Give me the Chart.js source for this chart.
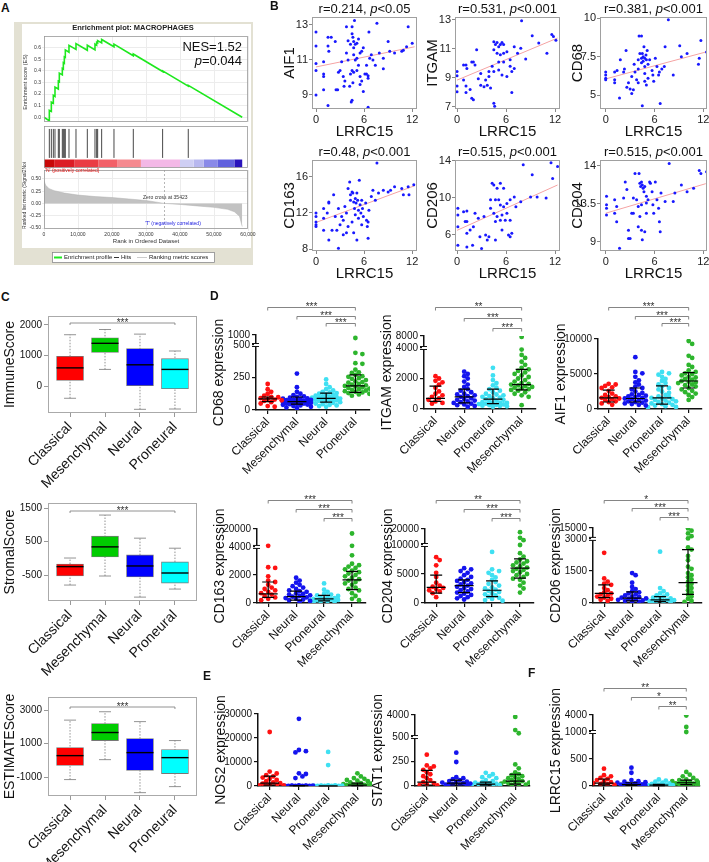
<!DOCTYPE html>
<html>
<head>
<meta charset="utf-8">
<script src="https://cdn.jsdelivr.net/npm/chart.js"></script>
<style>
html,body{margin:0;padding:0;width:709px;height:862px;overflow:hidden;background:#fff}
body{position:relative;font-family:"Liberation Sans",Arial,sans-serif;color:#111}
.pl{position:absolute;font-weight:bold;font-size:12px;z-index:5}
#gsea{position:absolute;left:14px;top:22px;width:239px;height:243px;background:#e3e1d3}
#gin{position:absolute;left:22px;top:24px;width:229px;height:224px;background:#fff}
.t{position:absolute;white-space:nowrap;font-size:13px;z-index:5}
</style>
</head>
<body>
<div id="gsea"></div><div id="gin"></div>
<div class="pl" style="left:1px;top:1px">A</div>
<div class="pl" style="left:270px;top:-1px">B</div>
<div class="pl" style="left:1px;top:290px">C</div>
<div class="pl" style="left:210px;top:289px">D</div>
<div class="pl" style="left:203px;top:669px">E</div>
<div class="pl" style="left:528px;top:666px">F</div>
<div class="t" style="right:467px;top:39px">NES=1.52</div>
<div class="t" style="right:467px;top:53px"><i>p</i>=0.044</div>
<script>
// ---- panel A: GSEA ----
const esRank = [0,1300,1568,1568,2156,2156,2744,2744,3234,3234,4214,4214,4508,4508,5390,5390,5684,5684,5978,5978,6272,6272,7350,7350,9408,9408,12740,12740,14994,14994,15484,15484,15778,15778,16954,16954,20580,20580,26264,26264,34888,34888,42434,42434,58300];
const esScore = [0,-0.025,-0.027,0.06,0.05,0.13,0.12,0.19,0.18,0.26,0.243,0.31,0.305,0.38,0.365,0.42,0.415,0.47,0.465,0.52,0.515,0.58,0.56,0.62,0.585,0.635,0.577,0.62,0.58,0.63,0.62,0.645,0.64,0.66,0.64,0.67,0.607,0.63,0.53,0.545,0.394,0.40,0.268,0.275,0];
const hitRanks = [1568,2156,2744,3234,4214,4508,5390,5684,5978,6272,7350,9408,12740,14994,15484,15778,16954,20580,26264,34888,42434];
const barEdges = [0,3000,9000,16000,21500,28500,40000,44000,47000,51000,56000,58300];
const barCols = ['#c80808','#dc1c24','#ea3c44','#f26068','#f58a90','#f3b8e6','#cfcff4','#b8b8ef','#8a8ae8','#6262de','#2a14bc'];
const rmRank = [0,500,1500,3000,6000,10000,15000,20000,25000,30000,35423,40000,45000,50000,54000,56000,57500,58300];
const rmVal = [0.46,0.37,0.3,0.26,0.21,0.17,0.14,0.12,0.09,0.06,0,-0.02,-0.05,-0.08,-0.12,-0.17,-0.26,-0.47];
const zeroCross = 35423;

// ---- panel B: scatter vs LRRC15 ----
const bGenes = ['AIF1','ITGAM','CD68','CD163','CD206','CD204'];
const bTitles = [['r=0.214, ','p','<0.05'],['r=0.531, ','p','<0.001'],['r=0.381, ','p','<0.001'],['r=0.48, ','p','<0.001'],['r=0.515, ','p','<0.001'],['r=0.515, ','p','<0.001']];
const aif1Pts = [[0,12.6],[0,11.8],[0,10.8],[0,10.4],[0,9.0],[0.95,10.9],[0.95,10.2],[0.95,10.05],[0.95,9.3],[1.5,12.3],[1.9,12.3],[1.5,11.8],[1.6,11.5],[1.5,8.4],[2.4,12.05],[2.5,9.3],[2.7,9.3],[2.8,10.3],[3.0,10.4],[3.2,10.9],[3.4,10.05],[3.5,9.5],[3.6,9.8],[3.8,12.9],[4.0,12.1],[3.8,11.4],[4.0,11.0],[4.3,10.2],[4.2,9.5],[4.5,12.9],[4.5,12.5],[4.3,11.9],[4.6,12.3],[4.7,11.7],[4.7,12.05],[4.8,13.25],[4.9,11.9],[5.1,11.95],[5.3,12.2],[4.7,11.3],[4.9,11.0],[5.1,11.1],[4.5,10.4],[4.7,10.3],[4.6,9.7],[4.5,8.7],[4.4,8.6],[5.1,10.4],[5.3,10.7],[5.5,11.4],[5.7,11.5],[5.9,11.7],[5.5,10.05],[5.5,9.6],[5.7,9.8],[5.9,9.2],[6.1,10.2],[6.3,10.2],[6.5,10.1],[6.5,9.95],[6.3,10.7],[6.6,12.6],[6.5,8.3],[6.7,11.1],[6.9,11.3],[7.1,11.0],[7.4,10.7],[7.6,13.1],[7.9,11.4],[8.4,11.1],[8.4,10.5],[9.0,12.05],[9.2,11.5],[9.8,11.4],[10.7,11.5],[10.9,11.55],[11.5,12.9],[11.3,11.75],[12.0,11.95]];
const itgamPts = [[7.9,12.95],[9.2,11.9],[11.6,12.0],[11.8,11.85],[11.0,10.7],[12.1,11.6],[10.0,11.4],[7.8,11.05],[7.0,11.15],[4.5,11.5],[4.7,11.3],[4.9,11.45],[5.1,11.15],[5.3,11.3],[5.5,11.45],[5.7,11.3],[4.5,10.95],[4.9,10.7],[5.3,10.6],[5.7,10.7],[6.1,10.8],[6.5,10.25],[5.7,10.1],[5.1,10.1],[4.3,9.8],[4.5,9.45],[5.1,9.55],[5.5,9.2],[6.1,9.1],[6.5,9.8],[6.7,9.45],[7.0,9.65],[6.7,8.0],[4.5,7.25],[4.6,7.05],[3.5,8.85],[3.7,8.5],[3.3,8.4],[2.9,8.5],[2.6,8.95],[2.4,10.95],[2.2,9.9],[1.8,10.1],[2.0,10.1],[1.6,8.2],[1.8,7.6],[0.8,8.85],[0.8,9.9],[1.2,9.65],[2.9,9.3],[3.9,9.45],[3.9,9.1],[4.1,8.3],[0,9.45],[0,9.15],[0,8.45],[0,8.05],[1.1,9.9],[1.1,8.45],[1.1,8.0],[2.0,7.5],[7.4,10.7],[8.4,10.3]];
const cd68Pts = [[0,6.5],[0,6.3],[0,6.1],[0,6.0],[1.1,6.5],[1.1,6.0],[1.1,5.8],[1.7,4.8],[1.8,7.3],[2.2,6.5],[2.3,6.7],[2.5,7.9],[2.6,5.5],[2.8,5.8],[3.0,5.4],[3.2,5.1],[3.2,6.2],[3.5,7.0],[3.6,6.5],[3.8,6.0],[4.0,7.3],[4.0,6.7],[4.0,5.8],[4.1,8.85],[4.4,8.85],[4.2,7.7],[4.4,7.4],[4.4,7.1],[4.5,7.7],[4.6,7.5],[4.6,7.2],[4.7,8.15],[4.8,7.4],[4.8,6.85],[4.8,6.4],[4.95,7.6],[5.0,7.3],[5.1,7.9],[5.2,7.0],[5.4,7.3],[5.2,6.1],[4.8,5.9],[4.5,4.3],[5.0,5.65],[5.7,6.6],[5.8,6.3],[5.9,5.9],[6.1,7.4],[6.3,6.85],[6.5,6.3],[6.6,6.5],[6.7,4.45],[6.9,6.7],[7.2,6.85],[7.7,9.9],[7.3,8.15],[8.3,6.3],[9.1,8.2],[9.3,7.5],[10.0,7.7],[11.4,7.0],[11.5,7.4],[11.7,8.55],[12.4,7.8],[1.4,6.6],[3.4,5.35]];
const cd163Pts = [[0,12],[0,11.6],[0,11.0],[0,10.7],[0,10.5],[0.95,12.5],[0.95,11.4],[0.95,10.1],[1.4,12.0],[1.6,13.2],[1.6,13.1],[1.6,9.0],[2.0,10.1],[2.2,14.0],[2.4,11.6],[2.6,10.1],[2.8,12.5],[2.8,8.1],[3.0,10.7],[3.2,11.6],[3.4,11.2],[3.4,9.6],[3.6,12.7],[3.8,12.0],[3.8,9.8],[4.0,10.5],[4.0,14.7],[4.2,15.4],[4.3,14.0],[4.3,13.4],[4.5,14.3],[4.6,14.2],[4.7,13.2],[4.8,12.5],[4.9,13.6],[4.9,11.8],[5.0,13.1],[5.1,14.2],[5.2,13.4],[5.3,12.3],[5.3,11.4],[5.4,15.6],[5.5,12.9],[5.6,12.0],[5.7,13.4],[5.8,12.5],[5.9,11.6],[5.7,10.7],[5.1,9.0],[4.7,9.8],[4.5,11.0],[6.2,13.1],[6.3,11.2],[6.4,10.5],[6.5,11.0],[6.5,9.2],[6.6,12.3],[6.9,13.8],[7.1,14.5],[7.6,17.5],[7.4,13.4],[7.8,14.2],[8.4,14.5],[9.0,14.3],[9.3,14.5],[9.8,14.9],[10.7,14.7],[10.9,14.0],[11.5,14.9],[11.6,14.0],[12.2,15.1]];
const cd206Pts = [[8.1,13.6],[11.5,13.8],[12.3,13.4],[9.2,12.5],[11.7,12.1],[9.0,10.1],[9.8,10.1],[10.9,10.0],[5.3,11.6],[5.7,11.05],[4.3,11.6],[4.5,11.4],[4.9,11.05],[4.1,9.8],[4.7,9.8],[5.1,9.8],[5.3,9.25],[5.7,9.05],[6.1,9.4],[6.5,9.8],[7.0,10.1],[7.2,9.05],[7.8,9.6],[4.1,8.9],[4.5,8.35],[4.9,8.0],[5.3,7.6],[4.7,7.45],[5.5,8.15],[5.9,7.6],[6.1,8.35],[6.5,7.6],[6.7,6.2],[6.3,6.0],[6.5,5.8],[5.5,6.55],[4.7,5.45],[3.5,6.0],[3.9,5.8],[3.0,4.55],[2.8,5.8],[2.6,7.8],[3.3,8.0],[2.2,8.35],[2.0,6.9],[1.6,6.55],[0.8,8.5],[1.0,7.45],[1.2,6.2],[1.9,4.9],[3.7,5.45],[0.1,8.9],[0.1,8.15],[0.1,6.9],[0.1,4.9],[1.2,8.6],[1.2,7.45],[1.2,4.7]];
const cd204Pts = [[0.1,14.4],[0.1,13.4],[0.1,13.0],[0.1,12.2],[1.1,12.4],[1.1,14.0],[1.35,11.4],[1.7,8.25],[2.2,14.2],[2.4,16.1],[2.6,15.2],[2.8,10.4],[3.0,9.4],[2.8,9.4],[3.2,12.4],[3.4,14.2],[3.4,12.4],[3.6,17.1],[3.8,14.0],[4.0,13.2],[4.0,10.8],[4.1,17.1],[4.2,15.95],[4.3,15.55],[4.4,16.1],[4.5,15.75],[4.6,15.35],[4.7,14.95],[4.8,15.55],[5.0,14.4],[5.0,13.6],[4.4,13.4],[4.2,12.0],[4.4,10.4],[4.5,9.25],[4.8,10.2],[5.0,12.4],[5.2,14.0],[5.4,16.1],[5.5,15.95],[5.7,14.95],[5.8,13.4],[5.9,12.4],[6.1,16.1],[6.3,14.0],[6.5,13.0],[6.6,11.4],[6.7,10.2],[6.8,14.8],[7.3,13.8],[7.8,18.3],[8.3,13.8],[8.5,14.8],[9.3,15.75],[10.0,14.95],[10.8,15.35],[11.5,17.45],[11.7,17.1],[12.4,17.3],[1.35,13.2]];
const aif1Fit = [10.6,11.75], itgamFit = [8.85,11.75], cd68Fit = [6.05,7.8];
const cd163Fit = [10.95,15.0], cd206Fit = [6.5,11.4], cd204Fit = [12.4,15.9];
const bTicksX = [0,6,12];

// ---- panel C: ESTIMATE box plots ----
const catsC = ['Classical','Mesenchymal','Neural','Proneural'];
const immMin = [-390,550,-750,-740], immQ1 = [190,1100,0,-80], immMed = [600,1400,700,550], immQ3 = [980,1580,1230,900], immMax = [1680,1850,1700,1150];
const strMin = [-800,-530,-1160,-920], strQ1 = [-530,40,-560,-740], strMed = [-250,340,-230,-440], strQ3 = [-170,660,100,-110], strMax = [7,1290,600,300];
const estMin = [-1150,40,-1930,-1570], estQ1 = [-310,1180,-610,-790], estMed = [280,1660,460,160], estQ3 = [760,2190,1300,640], estMax = [2400,2900,2310,1180];
const sigC = [[0,3,'***']];

// ---- panels D, E, F: expression dot plots ----
const catsD = ['Classical','Neural','Proneural','Mesenchymal'];
const catsD68 = ['Classical','Mesenchymal','Neural','Proneural'];
const cd68Vals = [
  [200,160,140,125,110,100,98,92,88,85,80,75,70,60,50,30,25],
  [280,175,140,125,115,105,100,95,90,88,85,80,78,75,72,70,68,65,62,60,58,55,52,50,48,45,42,40,35,30,25,20,15],
  [235,200,175,160,150,140,135,130,125,120,115,110,105,100,98,95,92,90,88,85,82,80,78,75,72,70,65,60,55,50,45,40,35,30,25],
  [850,440,430,360,355,310,290,285,270,260,255,245,240,230,220,215,210,200,195,190,185,180,175,170,165,160,155,150,145,140,135,130,125,120,110]];
const cd68Med = [85,65,90,185], cd68Q1 = [65,45,60,135], cd68Q3 = [100,100,130,270];
const itgamVals = [
  [2150,2000,1850,1750,1600,1400,1150,1000,900,800,700,600,500,400,350],
  [2450,2300,2150,2000,1800,1600,1450,1300,1200,1100,1000,950,900,850,800,700,650,600,550,500,450,400,350,300,250,200,150],
  [2700,2200,1900,1700,1550,1400,1300,1200,1100,1000,950,900,850,800,750,700,650,600,550,500,450,420,400,380,350,320,300,280,250,220,200,180,150],
  [7700,3900,3550,3350,3100,2900,2700,2600,2500,2400,2300,2200,2100,2000,1900,1800,1700,1650,1600,1550,1500,1450,1400,1350,1300,1250,1200,1100,1000,900,800,250]];
const itgamMed = [700,800,650,1600], itgamQ1 = [500,400,350,1250], itgamQ3 = [1500,1300,1300,2600];
const aif1Vals = [
  [3600,3500,3300,3100,3000,2600,2200,2000,1800,1700,1600,1500,1400,1300,1100,1000,800,600],
  [7400,5300,5100,4600,4100,3800,3500,3200,3000,2800,2500,2300,2100,2000,1900,1800,1700,1600,1500,1400,1300,1200,1100,1000,900,800,700,600,500],
  [5300,5100,4900,4600,4300,4000,3700,3500,3200,3000,2800,2500,2300,2000,1800,1700,1600,1500,1400,1300,1200,1100,1000,900,800,700,600,500,400,300,250],
  [9700,9300,7600,7300,6300,6000,5500,5300,5100,5000,4800,4600,4500,4300,4200,4000,3900,3800,3700,3500,3400,3200,3000,2800,2600,2400,2200,2000,1700,1300]];
const aif1Med = [1600,1500,1600,4000], aif1Q1 = [1000,1000,700,3000], aif1Q3 = [2700,3000,3300,5200];
const cd163Vals = [
  [5000,2550,2500,1900,1600,1500,1300,1100,1000,900,800,700,600,500,400,300,200],
  [1800,1600,1450,1300,1200,1100,1000,900,850,800,700,650,600,550,500,450,400,350,300,250,200,150,100],
  [1400,950,800,650,600,550,500,450,400,350,300,280,250,220,200,180,150,120,100,80],
  [16000,5000,3400,2800,2700,2600,2500,2400,2300,2200,2100,2000,1900,1800,1700,1600,1500,1400,1300,1100,1000,900,700,500,300,200]];
const cd163Med = [650,450,300,1650], cd163Q1 = [400,200,150,950], cd163Q3 = [1500,850,550,2250];
const cd204Vals = [
  [7900,7400,6500,5200,4500,3500,3000,2800,2600,2400,2200,2000,1700,1000],
  [6000,5800,5500,5200,4800,4500,4200,4000,3800,3600,3400,3200,3000,2800,2600,2400,2200,2000,1800,1600,1400,1200,1000,800,600],
  [8800,5800,5500,5200,4800,4400,4000,3600,3300,3000,2700,2500,2300,2100,1900,1700,1500,1300,1100,900,700,500,400],
  [18000,14500,13000,10000,8600,8000,7500,7200,7000,6800,6500,6300,6100,5900,5700,5500,5300,5000,4800,4500,4200,4000,3500,3000,2500,1800]];
const cd204Med = [2700,3000,2200,6000], cd204Q1 = [1700,1800,1100,4300], cd204Q3 = [4800,4000,3800,7600];
const cd206Vals = [
  [2350,1150,1000,900,850,700,600,500,450,400,350,300,250,200,150,100],
  [1400,1300,950,750,650,550,500,450,400,350,300,280,250,220,200,180,150,120,100,80,50],
  [2400,700,550,450,400,350,300,250,220,200,180,150,130,110,90,70,50,30],
  [14500,12000,9000,6000,3500,2600,2500,2200,2000,1700,1600,1400,1300,1200,1100,1000,900,800,700,600,500,400,300,200,100,50]];
const cd206Med = [450,230,150,950], cd206Q1 = [250,100,60,400], cd206Q3 = [850,520,300,2500];
const nos2Vals = [
  [22500,6000,5200,4500,4000,3500,3000,2500,2000,1500,1200,1000,800,600,400,300,200,100],
  [28000,15000,14500,14000,5300,5000,4000,3300,200,150,100,100,80,60,50,40,30,20,10,0],
  [14200,8700,300,200,150,100,80,60,50,40,30,20,10,5],
  [5300,4000,3300,3000,2500,2200,2000,1500,1200,1000,800,600,500,400,300,200,150,100,50]];
const nos2Med = [1200,100,50,400], nos2Q1 = [400,20,20,100], nos2Q3 = [4100,200,100,1200];
const stat1Vals = [
  [320,210,200,180,165,140,120,100,80,60,40,30,20,10,5],
  [340,245,90,80,70,60,50,45,40,35,30,25,20,15,10,8,5],
  [135,120,100,90,80,60,50,40,35,30,25,20,15,12,10,8,5],
  [3700,1600,1100,220,180,140,120,110,100,90,80,70,60,50,45,40,35,30,25,20,15,10]];
const stat1Med = [40,30,20,50], stat1Q1 = [10,10,8,20], stat1Q3 = [160,60,40,120];
const lrrc15Vals = [
  [320,200,180,150,130,110,90,70,55,40,30,20,10],
  [340,245,110,90,80,70,60,50,40,30,25,20,15,10,5],
  [120,100,80,60,50,40,30,25,20,15,10,8,5,3],
  [3900,1900,1000,260,210,180,150,120,110,100,90,80,70,60,50,45,40,35,30,25,20,15,10]];
const lrrc15Med = [55,25,15,60], lrrc15Q1 = [20,10,5,25], lrrc15Q3 = [130,60,30,110];
const sig3 = [[0,3,'***'],[1,3,'***'],[2,3,'***']];
const sigItgam = [[0,3,'**'],[1,3,'***'],[2,3,'***']];
const sigCd204 = [[0,3,'**'],[1,3,'***'],[2,3,'***']];
const sigCd206 = [[0,3,'*'],[1,3,'***'],[2,3,'***']];
const sigLrrc15 = [[0,3,'**'],[1,3,'*'],[2,3,'**']];

// ---- styling ----
const FF = '"Liberation Sans", Arial, sans-serif';
const colsC = ['#ff0000','#00cc00','#0000ff','#00ffff'];
const colsD = ['#ff1212','#1414ee','#3fe0f2','#2db52d'];
Chart.defaults.font.family = FF;
Chart.defaults.color = '#111';
Chart.defaults.plugins.legend.display = false;
Chart.defaults.plugins.tooltip.enabled = false;
Chart.defaults.animation = false;

let nChart = 0;
function mk(box, pad, cfg, hooks) {
  const [l, t, r, b] = box, [pl, pt, pr, pb] = pad;
  const w = r - l + pl + pr, h = b - t + pt + pb;
  const c = document.createElement('canvas');
  c.width = w; c.height = h;
  c.style.cssText = 'position:absolute;left:' + (l - pl) + 'px;top:' + (t - pt) + 'px;width:' + w + 'px;height:' + h + 'px';
  document.body.appendChild(c);
  const o = cfg.options;
  o.responsive = false; o.animation = false; o.devicePixelRatio = 1;
  o.layout = {padding: {left: 0, top: pt, right: pr, bottom: 0}};
  o.scales.x.afterFit = s => { s.height = pb; };
  o.scales.y.afterFit = s => { s.width = pl; };
  hooks = hooks || {};
  const P = (ch, px, py) => [px - l + ch.chartArea.left, py - t + ch.chartArea.top];
  cfg.plugins = [{
    id: 'deco' + (nChart++),
    beforeDatasetsDraw(ch) { if (hooks.before) hooks.before(ch, P); },
    afterDatasetsDraw(ch) { if (hooks.after) hooks.after(ch, P); },
    afterDraw(ch) { if (hooks.top) hooks.top(ch, P); }
  }];
  return new Chart(c, cfg);
}

function frame(ch, col, lw) {
  const {ctx, chartArea: a} = ch;
  ctx.save(); ctx.strokeStyle = col; ctx.lineWidth = lw || 1;
  ctx.strokeRect(a.left + 0.5, a.top + 0.5, a.width - 1, a.height - 1);
  ctx.restore();
}
function text(ctx, s, x, y, font, color, align, base) {
  ctx.save(); ctx.font = font; ctx.fillStyle = color || '#111';
  ctx.textAlign = align || 'center'; ctx.textBaseline = base || 'middle';
  ctx.fillText(s, x, y); ctx.restore();
}
function vtext(ctx, s, x, y, font, color) {
  ctx.save(); ctx.translate(x, y); ctx.rotate(-Math.PI / 2);
  ctx.font = font; ctx.fillStyle = color || '#111'; ctx.textAlign = 'center'; ctx.textBaseline = 'middle';
  ctx.fillText(s, 0, 0); ctx.restore();
}
function fixedTicks(vals) { return s => { s.ticks = vals.map(v => ({value: v})); }; }

// ---------- Panel A ----------
mk([44, 36, 248, 126], [22, 16, 10, 0], {
  type: 'scatter',
  data: {datasets: [{data: esRank.map((r, i) => ({x: r, y: esScore[i]})), showLine: true, borderColor: '#1ee81e', borderWidth: 1.6, pointRadius: 0}]},
  options: {scales: {
    x: {type: 'linear', min: 0, max: 60000, ticks: {display: false, stepSize: 10000}, grid: {color: '#ececec', drawTicks: false}, border: {display: false}},
    y: {type: 'linear', min: -0.041, max: 0.70, afterBuildTicks: fixedTicks([0, 0.1, 0.2, 0.3, 0.4, 0.5, 0.6]),
        ticks: {font: {size: 5}, color: '#333', padding: 1, callback: v => v.toFixed(1)}, grid: {color: '#ececec', tickLength: 2}, border: {display: false}}
  }}
}, {top(ch, P) {
  frame(ch, '#999', 0.8);
  const ctx = ch.ctx;
  let [x, y] = P(ch, 133, 28);
  text(ctx, 'Enrichment plot: MACROPHAGES', x, y, 'bold 7.5px ' + FF, '#222');
  [x, y] = P(ch, 25, 82);
  vtext(ctx, 'Enrichment score (ES)', x, y, '5.5px ' + FF, '#333');
}});

const hitData = [];
hitRanks.forEach(r => { hitData.push({x: r, y: 0.24}, {x: r, y: 0.93}, {x: r, y: null}); });
const barSets = barCols.map((c, i) => ({data: [{x: barEdges[i], y: 0.107}, {x: barEdges[i + 1], y: 0.107}], showLine: true, borderColor: c, borderWidth: 8, borderCapStyle: 'butt', pointRadius: 0}));
mk([44, 126, 248, 168], [22, 4, 10, 0], {
  type: 'scatter',
  data: {datasets: [{data: hitData, showLine: true, spanGaps: false, borderColor: '#333', borderWidth: 0.9, pointRadius: 0}].concat(barSets)},
  options: {scales: {
    x: {type: 'linear', min: 0, max: 60000, display: false},
    y: {type: 'linear', min: 0, max: 1, display: false}
  }}
}, {top(ch) { frame(ch, '#999', 0.8); }});

mk([44, 170, 248, 229], [22, 8, 10, 36], {
  type: 'scatter',
  data: {datasets: [{data: rmRank.map((r, i) => ({x: r, y: rmVal[i]})), showLine: true, fill: 'origin', backgroundColor: '#c2c2c2', borderColor: '#b0b0b0', borderWidth: 0.5, pointRadius: 0}]},
  options: {scales: {
    x: {type: 'linear', min: 0, max: 60000, afterBuildTicks: fixedTicks([0, 10000, 20000, 30000, 40000, 50000, 60000]),
        ticks: {font: {size: 5}, color: '#333', padding: 1, maxRotation: 0, callback: v => v.toLocaleString('en-US')}, grid: {color: '#ececec', tickLength: 2}, border: {display: false}},
    y: {type: 'linear', min: -0.52, max: 0.68, afterBuildTicks: fixedTicks([-0.5, -0.25, 0, 0.25, 0.5]),
        ticks: {font: {size: 5}, color: '#333', padding: 1, callback: v => v.toFixed(2)}, grid: {color: '#ececec', tickLength: 2}, border: {display: false}}
  }}
}, {top(ch, P) {
  frame(ch, '#999', 0.8);
  const {ctx, chartArea: a, scales: {x}} = ch;
  const zx = x.getPixelForValue(zeroCross);
  ctx.save(); ctx.strokeStyle = '#999'; ctx.lineWidth = 0.7; ctx.setLineDash([2, 2]);
  ctx.beginPath(); ctx.moveTo(zx, a.top); ctx.lineTo(zx, a.bottom); ctx.stroke(); ctx.restore();
  let [px, py] = P(ch, 45, 171);
  text(ctx, "'N' (positively correlated)", px, py, '5px ' + FF, '#e01010', 'left');
  [px, py] = P(ch, 143, 198);
  text(ctx, 'Zero cross at ' + zeroCross, px, py, '5px ' + FF, '#333', 'left');
  [px, py] = P(ch, 145, 224);
  text(ctx, "'T' (negatively correlated)", px, py, '5px ' + FF, '#2020e0', 'left');
  [px, py] = P(ch, 25, 192);
  vtext(ctx, 'Ranked list metric (Signal2Noise)', px, py, '5px ' + FF, '#333');
  [px, py] = P(ch, 146, 241);
  text(ctx, 'Rank in Ordered Dataset', px, py, '6px ' + FF, '#333');
  // legend
  [px, py] = P(ch, 52, 252);
  ctx.save(); ctx.fillStyle = '#fff'; ctx.fillRect(px, py, 163, 11);
  ctx.strokeStyle = '#888'; ctx.lineWidth = 0.8; ctx.strokeRect(px + 0.5, py + 0.5, 162, 10);
  const ly = py + 5.5;
  const items = [['#1ee81e', 'Enrichment profile', 2, 8, 2], ['#333', 'Hits', 62, 5, 1], ['#ccc', 'Ranking metric scores', 85, 10, 1]];
  items.forEach(it => {
    ctx.strokeStyle = it[0]; ctx.lineWidth = it[4]; ctx.beginPath(); ctx.moveTo(px + it[2], ly); ctx.lineTo(px + it[2] + it[3], ly); ctx.stroke();
    text(ctx, it[1], px + it[2] + it[3] + 2, ly, '6px ' + FF, '#222', 'left');
  });
  ctx.restore();
}});

// ---------- Panel B ----------
function scatChart(box, pts, fit, xr, yr, yt, ylab, gi) {
  mk(box, [46, 22, 9, 34], {
    type: 'scatter',
    data: {datasets: [
      {data: pts.map(p => ({x: p[0], y: p[1]})), backgroundColor: '#1818ff', borderWidth: 0, pointRadius: 1.5},
      {data: [{x: 0, y: fit[0]}, {x: 12.3, y: fit[1]}], showLine: true, borderColor: '#f5a3a3', borderWidth: 1, pointRadius: 0}
    ]},
    options: {scales: {
      x: {type: 'linear', min: xr[0], max: xr[1], afterBuildTicks: fixedTicks(bTicksX),
          ticks: {font: {size: 11}, color: '#222', padding: 1, maxRotation: 0}, grid: {drawOnChartArea: false, tickLength: 3, color: '#888'}, border: {display: false}},
      y: {type: 'linear', min: yr[0], max: yr[1], afterBuildTicks: fixedTicks(yt),
          ticks: {font: {size: 11}, color: '#222', padding: 1, callback: (v, i) => ylab[i]}, grid: {drawOnChartArea: false, tickLength: 3, color: '#888'}, border: {display: false}}
    }}
  }, {top(ch) {
    frame(ch, '#a0a0a0', 1);
    const {ctx, chartArea: a} = ch;
    const parts = bTitles[gi];
    let w = 0;
    parts.forEach((s, k) => { ctx.font = (k === 1 ? 'italic ' : '') + '13px ' + FF; w += ctx.measureText(s).width; });
    let x = (a.left + a.right) / 2 - w / 2;
    ctx.save(); ctx.fillStyle = '#111'; ctx.textBaseline = 'middle'; ctx.textAlign = 'left';
    parts.forEach((s, k) => { ctx.font = (k === 1 ? 'italic ' : '') + '13px ' + FF; ctx.fillText(s, x, a.top - 8); x += ctx.measureText(s).width; });
    ctx.restore();
    vtext(ctx, bGenes[gi], a.left - 22, (a.top + a.bottom) / 2, '15px ' + FF);
    text(ctx, 'LRRC15', (a.left + a.right) / 2, a.bottom + 23, '15px ' + FF);
  }});
}
scatChart([312, 17, 417, 109], aif1Pts, aif1Fit, [-0.5, 12.6], [8.2, 13.45], [9, 11, 13], ['9', '11', '13'], 0);
scatChart([455, 17, 560, 109], itgamPts, itgamFit, [-0.25, 12.6], [6.86, 13.2], [7, 9, 11, 13], ['7', '9', '11', '13'], 1);
scatChart([600, 17, 707, 109], cd68Pts, cd68Fit, [-0.7, 12.45], [4.09, 10.08], [5, 7.5, 10], ['5', '7.5', '10'], 2);
scatChart([312, 160, 417, 251], cd163Pts, cd163Fit, [-0.5, 12.6], [7.8, 17.84], [8, 12, 16], ['8', '12', '16'], 3);
scatChart([455, 160, 560, 251], cd206Pts, cd206Fit, [-0.25, 12.6], [4.27, 14.1], [6, 10, 14], ['6', '10', '14'], 4);
scatChart([600, 160, 707, 251], cd204Pts, cd204Fit, [-0.7, 12.45], [7.93, 18.7], [9, 13.5, 18], ['9', '13.5', '14'], 5);

// ---------- Panel C ----------
function boxChart(box, mn, q1, md, q3, mx, yr, yt, title, brOff) {
  mk(box, [48, 8, 6, 92], {
    type: 'bar',
    data: {datasets: [{data: q1.map((q, i) => ({x: i, y: [q, q3[i]]})), backgroundColor: colsC, borderColor: '#777', borderWidth: 0.8, borderSkipped: false, barThickness: 27}]},
    options: {scales: {
      x: {type: 'linear', min: -0.63, max: 3.63, offset: false, afterBuildTicks: fixedTicks([0, 1, 2, 3]),
          ticks: {callback: (v, i) => catsC[i], autoSkip: false, minRotation: 45, maxRotation: 45, font: {size: 14}, color: '#111', padding: 2},
          grid: {drawOnChartArea: false, offset: false, tickLength: 4, color: '#999'}, border: {display: false}},
      y: {type: 'linear', min: yr[0], max: yr[1], afterBuildTicks: fixedTicks(yt),
          ticks: {font: {size: 10}, color: '#111', padding: 2, callback: v => String(v)},
          grid: {drawOnChartArea: false, tickLength: 4, color: '#999'}, border: {display: false}}
    }}
  }, {
    before(ch) {
      const {ctx, scales: {x, y}} = ch;
      ctx.save(); ctx.strokeStyle = '#777'; ctx.lineWidth = 0.8;
      for (let i = 0; i < 4; i++) {
        const cx = x.getPixelForValue(i), a = y.getPixelForValue(mn[i]), b = y.getPixelForValue(mx[i]);
        ctx.setLineDash([1.5, 1.5]); ctx.beginPath(); ctx.moveTo(cx, a); ctx.lineTo(cx, b); ctx.stroke();
        ctx.setLineDash([]); ctx.beginPath();
        ctx.moveTo(cx - 6, a); ctx.lineTo(cx + 6, a); ctx.moveTo(cx - 6, b); ctx.lineTo(cx + 6, b); ctx.stroke();
      }
      ctx.restore();
    },
    after(ch) {
      const {ctx, scales: {x, y}} = ch;
      ctx.save(); ctx.strokeStyle = '#000'; ctx.lineWidth = 1.4;
      for (let i = 0; i < 4; i++) {
        const cx = x.getPixelForValue(i), m = y.getPixelForValue(md[i]);
        ctx.beginPath(); ctx.moveTo(cx - 13.5, m); ctx.lineTo(cx + 13.5, m); ctx.stroke();
      }
      ctx.restore();
    },
    top(ch) {
      frame(ch, '#aaa', 1);
      const {ctx, chartArea: a, scales: {x}} = ch;
      vtext(ctx, title, a.left - 38, (a.top + a.bottom) / 2, '14px ' + FF);
      sigC.forEach(s => {
        const x1 = x.getPixelForValue(s[0]), x2 = x.getPixelForValue(s[1]), yy = a.top + brOff;
        ctx.save(); ctx.strokeStyle = '#777'; ctx.lineWidth = 0.8;
        ctx.beginPath(); ctx.moveTo(x1, yy + 2); ctx.lineTo(x1, yy); ctx.lineTo(x2, yy); ctx.lineTo(x2, yy + 2); ctx.stroke(); ctx.restore();
        text(ctx, s[2], (x1 + x2) / 2, yy + 3, '10px ' + FF, '#333', 'center', 'alphabetic');
      });
    }
  });
}
boxChart([48, 316, 197, 413], immMin, immQ1, immMed, immQ3, immMax, [-870, 2290], [0, 1000, 2000], 'ImmuneScore', 7);
boxChart([48, 503, 197, 601], strMin, strQ1, strMed, strQ3, strMax, [-1276, 1650], [-500, 500, 1500], 'StromalScore', 8);
boxChart([48, 697, 197, 796], estMin, estQ1, estMed, estQ3, estMax, [-2130, 3780], [-1000, 1000, 3000], 'ESTIMATEScore', 10);

// ---------- Panels D, E, F ----------
function swarm(vals, T, ky) {
  const placed = [];
  return vals.slice().sort((a, b) => b - a).map(v => {
    const yp = T(v) * ky;
    let best = 0, bestD = -1;
    for (let k = 0; k < 9; k++) {
      const c = (k % 2 ? 1 : -1) * Math.ceil(k / 2) * 3.5;
      let d = Infinity;
      placed.forEach(p => { d = Math.min(d, (p.x - c) * (p.x - c) + (p.y - yp) * (p.y - yp)); });
      if (d >= 16) { best = c; break; }
      if (d > bestD) { bestD = d; best = c; }
    }
    placed.push({x: best, y: yp});
    return {v: v, dx: best};
  });
}

function dotChart(o) {
  const br = o.brk;
  const T = br ? (v => v <= br[0] ? v : br[0] + (v - br[0]) / (br[1] - br[0]) * br[0] * br[2]) : (v => v);
  const ticks = o.ticks, ymax = T(ticks[ticks.length - 1]);
  const [l, t, r, b] = o.box, sp = (r - l) / 3.9, ky = (b - t) / ymax;
  const ds = o.vals.map((g, i) => ({
    data: swarm(g, T, ky).map(p => ({x: i + p.dx / sp, y: T(p.v)})),
    backgroundColor: colsD[i], borderWidth: 0, pointRadius: 2.4
  }));
  mk(o.box, [60, 40, 12, 80], {
    type: 'scatter', data: {datasets: ds},
    options: {scales: {
      x: {type: 'linear', min: -0.4, max: 3.5, afterBuildTicks: fixedTicks([0, 1, 2, 3]),
          ticks: {callback: (v, i) => o.cats[i], autoSkip: false, minRotation: 45, maxRotation: 45, font: {size: 12}, color: '#111', padding: 1},
          grid: {drawOnChartArea: false, tickLength: 4, color: '#111', lineWidth: 1.2}, border: {color: '#111', width: 1.5}},
      y: {type: 'linear', min: 0, max: ymax, afterBuildTicks: fixedTicks(ticks.map(T)),
          ticks: {callback: (v, i) => String(ticks[i]), font: {size: 10}, color: '#111', padding: 2},
          grid: {drawOnChartArea: false, tickLength: 4, color: '#111', lineWidth: 1.2}, border: {color: '#111', width: 1.5}}
    }}
  }, {
    after(ch) {
      const {ctx, scales: {x, y}} = ch;
      ctx.save(); ctx.strokeStyle = '#000'; ctx.lineWidth = 1.2;
      for (let i = 0; i < 4; i++) {
        const cx = x.getPixelForValue(i), ya = y.getPixelForValue(T(o.q1[i])), yb = y.getPixelForValue(T(o.q3[i])), ym = y.getPixelForValue(T(o.med[i]));
        ctx.beginPath();
        ctx.moveTo(cx, ya); ctx.lineTo(cx, yb);
        ctx.moveTo(cx - 6, ya); ctx.lineTo(cx + 6, ya);
        ctx.moveTo(cx - 6, yb); ctx.lineTo(cx + 6, yb);
        ctx.moveTo(cx - 9.5, ym); ctx.lineTo(cx + 9.5, ym);
        ctx.stroke();
      }
      ctx.restore();
    },
    top(ch) {
      const {ctx, chartArea: a, scales: {x, y}} = ch;
      vtext(ctx, o.title, a.left - 37, (a.top + a.bottom) / 2, '14px ' + FF);
      if (br) {
        const yb = y.getPixelForValue(br[0]);
        ctx.save(); ctx.fillStyle = '#fff'; ctx.fillRect(a.left - 2, yb - 1.5, 4, 3);
        ctx.strokeStyle = '#111'; ctx.lineWidth = 1;
        ctx.beginPath(); ctx.moveTo(a.left - 4, yb - 1.5); ctx.lineTo(a.left + 3, yb - 1.5);
        ctx.moveTo(a.left - 4, yb + 1.5); ctx.lineTo(a.left + 3, yb + 1.5); ctx.stroke(); ctx.restore();
      }
      (o.sig || []).forEach((s, k) => {
        const x1 = x.getPixelForValue(s[0]), x2 = x.getPixelForValue(s[1]), yy = a.top - o.sigOff[k] + 0.5;
        ctx.save(); ctx.strokeStyle = '#666'; ctx.lineWidth = 0.8;
        ctx.beginPath(); ctx.moveTo(x1, yy + 3); ctx.lineTo(x1, yy); ctx.lineTo(x2, yy); ctx.lineTo(x2, yy + 3); ctx.stroke(); ctx.restore();
        text(ctx, s[2], (x1 + x2) / 2, yy + 2.5, '10px ' + FF, '#333', 'center', 'alphabetic');
      });
    }
  });
}

dotChart({box: [256, 335, 370, 410], vals: cd68Vals, med: cd68Med, q1: cd68Q1, q3: cd68Q3, cats: catsD68, ticks: [0, 250, 500, 1000], brk: [500, 1000, 0.154], title: 'CD68 expression', sig: sig3, sigOff: [28, 19, 12]});
dotChart({box: [424, 336, 536, 409], vals: itgamVals, med: itgamMed, q1: itgamQ1, q3: itgamQ3, cats: catsD, ticks: [0, 2000, 4000, 8000], brk: [4000, 8000, 0.197], title: 'ITGAM expression', sig: sigItgam, sigOff: [29, 18, 8]});
dotChart({box: [598, 339, 702, 409], vals: aif1Vals, med: aif1Med, q1: aif1Q1, q3: aif1Q3, cats: catsD, ticks: [0, 5000, 10000], title: 'AIF1 expression', sig: sig3, sigOff: [32, 23, 16]});
dotChart({box: [257, 529, 366, 603], vals: cd163Vals, med: cd163Med, q1: cd163Q1, q3: cd163Q3, cats: catsD, ticks: [0, 2000, 4000, 20000], brk: [4000, 20000, 0.32], title: 'CD163 expression', sig: sig3, sigOff: [29, 20, 11]});
dotChart({box: [425, 529, 534, 603], vals: cd204Vals, med: cd204Med, q1: cd204Q1, q3: cd204Q3, cats: catsD, ticks: [0, 5000, 10000, 20000], brk: [10000, 20000, 0.276], title: 'CD204 expression', sig: sigCd204, sigOff: [29, 20, 11]});
dotChart({box: [593, 528, 702, 603], vals: cd206Vals, med: cd206Med, q1: cd206Q1, q3: cd206Q3, cats: catsD, ticks: [0, 1500, 3000, 15000], brk: [3000, 15000, 0.17], title: 'CD206 expression', sig: sigCd206, sigOff: [28, 20, 11]});
dotChart({box: [258, 714, 372, 786], vals: nos2Vals, med: nos2Med, q1: nos2Q1, q3: nos2Q3, cats: catsD, ticks: [0, 10000, 20000, 30000], title: 'NOS2 expression'});
dotChart({box: [415, 715, 530, 786], vals: stat1Vals, med: stat1Med, q1: stat1Q1, q3: stat1Q3, cats: catsD, ticks: [0, 250, 500, 4000], brk: [500, 4000, 0.45], title: 'STAT1 expression'});
dotChart({box: [593, 715, 700, 786], vals: lrrc15Vals, med: lrrc15Med, q1: lrrc15Q1, q3: lrrc15Q3, cats: catsD, ticks: [0, 500, 1000, 4000], brk: [1000, 4000, 0.315], title: 'LRRC15 expression', sig: sigLrrc15, sigOff: [27, 18, 9]});
</script>
</body>
</html>
